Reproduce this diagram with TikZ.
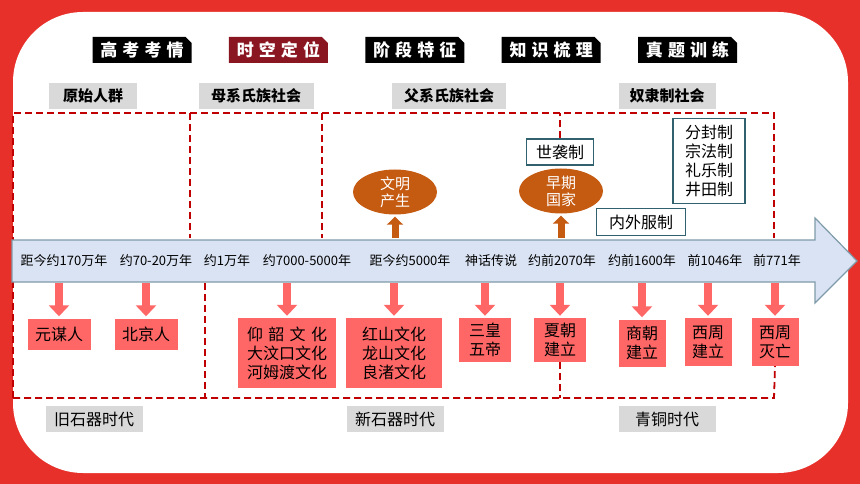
\documentclass[tikz,border=0pt]{standalone}
\usepackage{fontspec}
\setmainfont{Noto Sans CJK SC}
\usetikzlibrary{arrows.meta,positioning,shapes.geometric,shapes.misc}
\definecolor{frame}{HTML}{E8302A}
\definecolor{tabred}{HTML}{8A1622}
\definecolor{zonered}{HTML}{C00000}
\definecolor{axisfill}{HTML}{DAE3F3}
\definecolor{axisline}{HTML}{7F9BAA}
\definecolor{clay}{HTML}{C55A11}
\definecolor{pinkred}{HTML}{FF6666}
\definecolor{greybox}{HTML}{D9D9D9}
\definecolor{slate}{HTML}{31606E}
\tikzset{
  tab/.style={chamfered rectangle, chamfered rectangle corners=north east, chamfered rectangle sep=3pt, fill=black, text=white, minimum width=99pt, minimum height=26pt, inner sep=0pt, font=\fontsize{17}{17}\selectfont\bfseries\addfontfeature{LetterSpace=30}},
  era/.style={fill=greybox, minimum height=26pt, inner sep=0pt, font=\fontsize{15}{15}\selectfont\bfseries},
  zone/.style={draw=zonered, line width=1.8pt, dash pattern=on 7pt off 4pt},
  timeline/.style={fill=axisfill, draw=axisline, line width=1.2pt, line join=miter},
  year/.style={font=\fontsize{13}{13}\selectfont, inner sep=0pt},
  find/.style={fill=pinkred, align=center, inner sep=0pt, font=\fontsize{16}{19}\selectfont},
  state/.style={ellipse, fill=clay, text=white, align=center, inner sep=0pt, minimum width=84pt, minimum height=45pt, font=\fontsize{15}{17}\selectfont},
  rulebox/.style={draw=slate, line width=1.3pt, fill=white, align=center, inner sep=0pt, font=\fontsize{16}{19}\selectfont},
  age/.style={fill=greybox, minimum width=97pt, minimum height=26pt, inner sep=0pt, font=\fontsize{16}{16}\selectfont},
  downarr/.style={draw=pinkred, line width=8pt, -{Triangle[width=20pt,length=11pt]}, shorten >=2pt},
  uparr/.style={draw=clay, line width=7pt, -{Triangle[width=16pt,length=8pt]}, shorten >=2pt}
}
\begin{document}
\begin{tikzpicture}[x=1pt, y=-1pt]
    \useasboundingbox (0,0) rectangle (860,484);
    \fill[frame] (0,0) rectangle (860,484);
    \fill[white, rounded corners=70pt] (13,12) rectangle (848,473);
    \node (gk) [tab] at (142,50) {高考考情};
    \node (sk) [tab, fill=tabred, right=37pt of gk] {时空定位};
    \node (jd) [tab, right=37pt of sk] {阶段特征};
    \node (zs) [tab, right=37pt of jd] {知识梳理};
    \node (zt) [tab, right=37pt of zs] {真题训练};
    \node (ys) [era, minimum width=88pt] at (93,96) {原始人群};
    \node (mx) [era, minimum width=115pt] at (256,96) {母系氏族社会};
    \node (fx) [era, minimum width=114pt] at (449,96) {父系氏族社会};
    \node (nl) [era, minimum width=97pt] at (667,96) {奴隶制社会};
    \coordinate (ztop) at (13,113);
    \coordinate (zbot) at (13,398);
    \coordinate (atop) at (0,238);
    \coordinate (abot) at (0,283);
    \node (sx) [rulebox, minimum width=67pt, minimum height=26pt] at (560,152) {世袭制};
    \node (nw) [rulebox, minimum width=89pt, minimum height=27pt] at (641,222) {内外服制};
    \node (ff) [rulebox, minimum width=72pt, minimum height=85pt] at (709,161) {分封制\\宗法制\\礼乐制\\井田制};
    \node (wm) [state] at (395,192) {文明\\产生};
    \node (zq) [state] at (561,191) {早期\\国家};
    \node (b1) [find, minimum width=63pt, minimum height=31pt] at (59,334) {元谋人};
    \node (b2) [find, minimum width=63pt, minimum height=31pt] at (146,334) {北京人};
    \node (b3) [find, minimum width=98pt, minimum height=70pt] at (287,353) {\makebox[5em][s]{仰\hfill 韶\hfill 文\hfill 化}\\大汶口文化\\河姆渡文化};
    \node (b4) [find, minimum width=96pt, minimum height=70pt] at (394,353) {红山文化\\龙山文化\\良渚文化};
    \node (b5) [find, minimum width=52pt, minimum height=44pt] at (485,340) {三皇\\五帝};
    \node (b6) [find, minimum width=52pt, minimum height=44pt] at (560,340) {夏朝\\建立};
    \node (b7) [find, minimum width=47pt, minimum height=47pt] at (642,343) {商朝\\建立};
    \node (b8) [find, minimum width=47pt, minimum height=48pt] at (708,342) {西周\\建立};
    \node (b9) [find, minimum width=47pt, minimum height=48pt] at (775,342) {西周\\灭亡};
    \draw[zone] (zbot) -- (ztop) -- (774,113) -- (774,238);
    \draw[zone] (zbot) -- (774,398) -- (b9.south);
    \draw[zone] (190,113) -- (190,238);
    \draw[zone] (322,113) -- (322,238);
    \draw[zone] (sx.north) -- (sx.north |- ztop);
    \draw[zone] (205,283) -- (205,398);
    \draw[zone] (b6.south) -- (b6.south |- zbot);
    \draw[timeline] (12,240) -- (815,240) -- (815,218) -- (857,261) -- (815,303) -- (815,282) -- (12,282) -- cycle;
    \node (t1) [year] at (64,261) {距今约170万年};
    \node (t2) [year] at (156,261) {约70-20万年};
    \node (t3) [year] at (227,261) {约1万年};
    \node (t4) [year] at (307,261) {约7000-5000年};
    \node (t5) [year] at (410,261) {距今约5000年};
    \node (t6) [year] at (491,261) {神话传说};
    \node (t7) [year] at (562,261) {约前2070年};
    \node (t8) [year] at (642,261) {约前1600年};
    \node (t9) [year] at (715,261) {前1046年};
    \node (t10) [year] at (777,261) {前771年};
    \foreach \b in {b1,b2,b3,b4,b5,b6,b7,b8,b9}
      \draw[downarr] (\b.north |- abot) -- (\b.north);
    \draw[uparr] (wm.south |- atop) -- (wm.south);
    \draw[uparr] (zq.south |- atop) -- (zq.south);
    \node (jsq) [age] at (94,419) {旧石器时代};
    \node (xsq) [age] at (395,419) {新石器时代};
    \node (qt) [age] at (667,419) {青铜时代};
\end{tikzpicture}
\end{document}
